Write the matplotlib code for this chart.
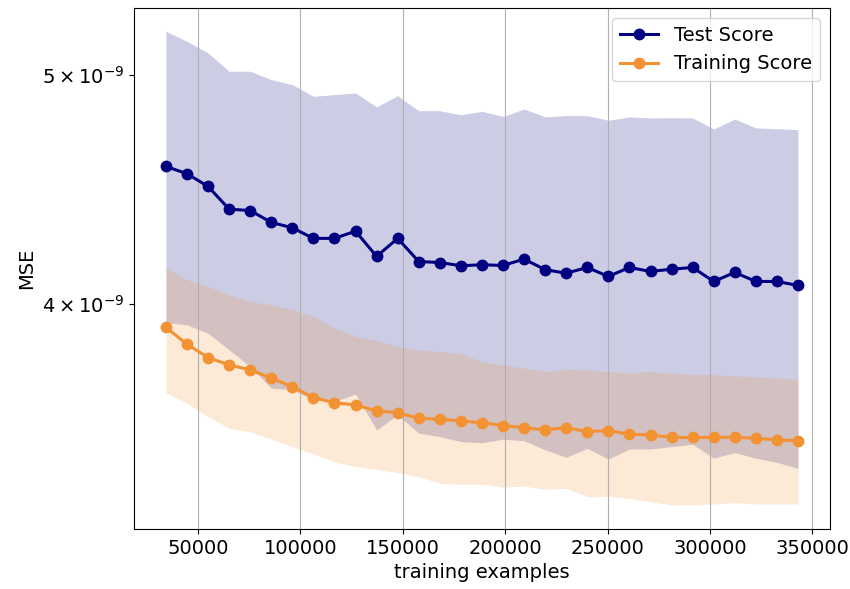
import matplotlib
matplotlib.use("Agg")
import matplotlib.pyplot as plt
from matplotlib.ticker import NullLocator, NullFormatter
import numpy as np

train_sizes = [34300, 44590, 54880, 65170, 75460, 85750, 96040, 106330, 116620, 126910,
               137200, 147490, 157780, 168070, 178360, 188650, 198940, 209230, 219520, 229810,
               240100, 250390, 260680, 270970, 281260, 291550, 301840, 312130, 322420, 332710, 343000]

test_mean = [4.574, 4.542, 4.486, 4.388, 4.382, 4.332, 4.309, 4.265, 4.265, 4.295,
             4.191, 4.265, 4.170, 4.166, 4.153, 4.157, 4.154, 4.180, 4.137, 4.123,
             4.146, 4.110, 4.146, 4.130, 4.139, 4.146, 4.090, 4.126, 4.090, 4.090, 4.074]
test_upper = [5.217, 5.166, 5.108, 5.018, 5.018, 4.977, 4.953, 4.897, 4.905, 4.913,
              4.847, 4.900, 4.829, 4.829, 4.810, 4.826, 4.802, 4.837, 4.800, 4.806,
              4.806, 4.784, 4.800, 4.795, 4.796, 4.795, 4.744, 4.790, 4.749, 4.745, 4.741]
test_lower = [3.930, 3.921, 3.889, 3.827, 3.765, 3.687, 3.681, 3.645, 3.639, 3.666,
              3.540, 3.592, 3.529, 3.517, 3.500, 3.496, 3.508, 3.503, 3.472, 3.447,
              3.477, 3.441, 3.475, 3.475, 3.483, 3.491, 3.444, 3.463, 3.444, 3.430, 3.410]

train_mean = [3.911, 3.848, 3.798, 3.771, 3.753, 3.723, 3.692, 3.653, 3.635, 3.627,
              3.606, 3.600, 3.580, 3.577, 3.571, 3.565, 3.555, 3.548, 3.540, 3.548,
              3.534, 3.538, 3.525, 3.523, 3.514, 3.514, 3.514, 3.515, 3.511, 3.506, 3.503]
train_upper = [4.143, 4.097, 4.070, 4.037, 4.011, 3.998, 3.979, 3.953, 3.908, 3.877,
               3.861, 3.839, 3.827, 3.820, 3.812, 3.783, 3.771, 3.759, 3.747, 3.755,
               3.753, 3.747, 3.741, 3.747, 3.741, 3.737, 3.735, 3.731, 3.728, 3.723, 3.719]
train_lower = [3.671, 3.633, 3.586, 3.546, 3.534, 3.508, 3.483, 3.458, 3.432, 3.416,
               3.407, 3.396, 3.383, 3.361, 3.358, 3.358, 3.348, 3.352, 3.341, 3.345,
               3.317, 3.319, 3.312, 3.301, 3.291, 3.291, 3.294, 3.299, 3.294, 3.294, 3.294]

y_ticks = [4e-9, 5e-9]
y_tick_labels = [r"$4\times10^{-9}$", r"$5\times10^{-9}$"]

scale = 1e-9
x = np.array(train_sizes)
tm, tu, tl = (np.array(a) * scale for a in (test_mean, test_upper, test_lower))
rm, ru, rl = (np.array(a) * scale for a in (train_mean, train_upper, train_lower))

TEST_C = "navy"
TRAIN_C = "#f39233"

fig = plt.figure(figsize=(8.5, 5.89), dpi=100)
ax = fig.add_axes([0.158, 0.102, 0.818, 0.884])

ax.fill_between(x, tl, tu, color=TEST_C, alpha=0.2, linewidth=0)
ax.fill_between(x, rl, ru, color=TRAIN_C, alpha=0.2, linewidth=0)
ax.plot(x, tm, "o-", color=TEST_C, label="Test Score", linewidth=2.2, markersize=7.5)
ax.plot(x, rm, "o-", color=TRAIN_C, label="Training Score", linewidth=2.2, markersize=7.5)

ax.set_yscale("log")
ax.set_ylim(3.215e-9, 5.335e-9)
ax.yaxis.set_major_locator(NullLocator())
ax.yaxis.set_minor_locator(NullLocator())
ax.yaxis.set_minor_formatter(NullFormatter())
ax.set_yticks(y_ticks, labels=y_tick_labels)

ax.grid(True, axis="x")
ax.set_xlabel("training examples", fontsize=14)
ax.set_ylabel("MSE", fontsize=14)
ax.tick_params(labelsize=14)
ax.legend(loc="upper right", fontsize=14)

fig.savefig("out.png", dpi=100)
